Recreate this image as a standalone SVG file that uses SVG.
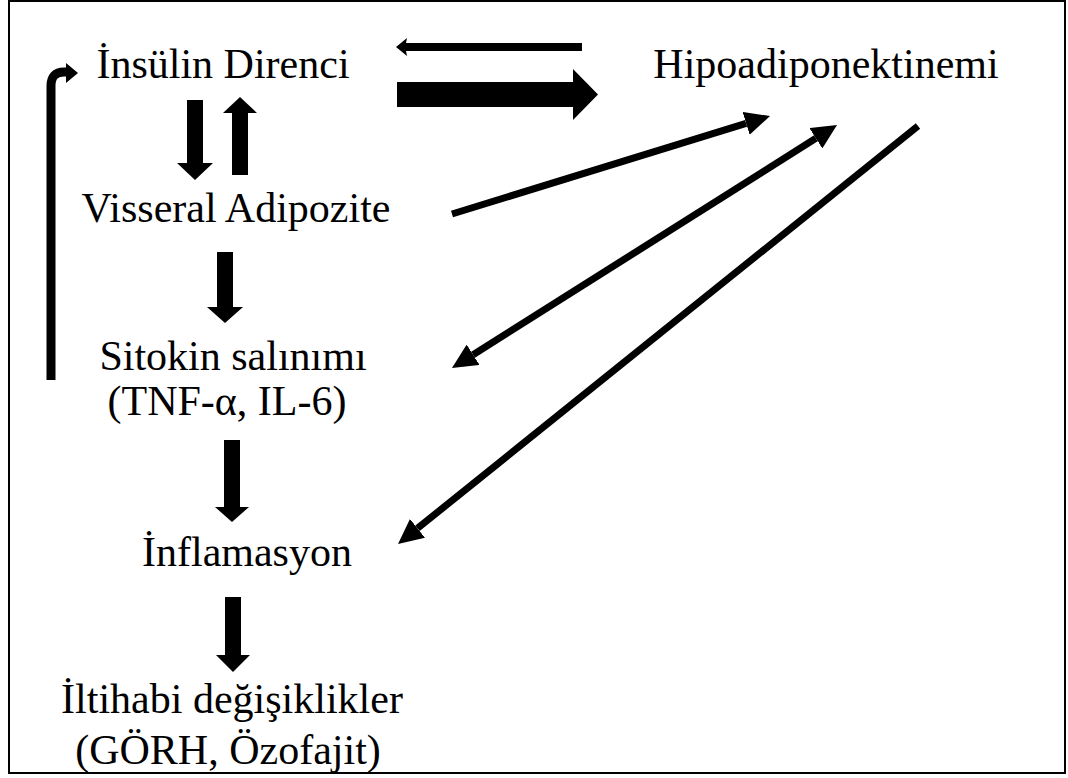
<svg xmlns="http://www.w3.org/2000/svg" width="1068" height="778" viewBox="0 0 1068 778">
<style>
.t{font-family:"Liberation Serif","Times New Roman",serif;font-size:42px;fill:#000;text-anchor:middle}
.blk{fill:#000}
.ln{stroke:#000;stroke-width:7;fill:none}
</style>
<defs>
<marker id="ah" markerUnits="userSpaceOnUse" viewBox="0 0 25 24" refX="0" refY="12" markerWidth="25" markerHeight="24" orient="auto-start-reverse">
<path d="M0,0 L25,12 L0,24 z" fill="#000"/>
</marker>
</defs>
<rect x="9" y="1" width="1056" height="772" fill="#fff" stroke="#000" stroke-width="2"/>
<g id="n-insulin"><text class="t" x="223" y="78">İnsülin Direnci</text></g>
<g id="n-hipo"><text class="t" x="826" y="78">Hipoadiponektinemi</text></g>
<g id="n-visseral"><text class="t" x="236" y="222">Visseral Adipozite</text></g>
<g id="n-sitokin"><text class="t" x="233" y="370">Sitokin salınımı</text><text class="t" x="227" y="415">(TNF-α, IL-6)</text></g>
<g id="n-inflamasyon"><text class="t" x="247" y="566">İnflamasyon</text></g>
<g id="n-iltihabi"><text class="t" x="232" y="713">İltihabi değişiklikler</text><text class="t" x="228" y="764">(GÖRH, Özofajit)</text></g>
<g id="connectors">
<polygon class="blk" points="582,43 406,43 407,38 396,47 407,56 406,51 582,51"/>
<polygon class="blk" points="397,82 573,82 573,69 598,94.5 573,120 573,107 397,107"/>
<polygon class="blk" points="187,100 203,100 203,163 213,163 195,180 177,163 187,163"/>
<polygon class="blk" points="232,175 248,175 248,113 257,113 240,97 223,113 232,113"/>
<polygon class="blk" points="217,252 233,252 233,307 243,307 225,323 207,307 217,307"/>
<polygon class="blk" points="224,440 240,440 240,507 249,507 232,522 215,507 224,507"/>
<polygon class="blk" points="225,597 241,597 241,655 250,655 233,672 216,655 225,655"/>
<path d="M51,380 V86 Q51,72 64,72 H68" stroke="#000" stroke-width="9" fill="none"/>
<polygon class="blk" points="66,63 78,73 66,83"/>
<path class="ln" d="M452,214 L746.1,123.4" marker-end="url(#ah)"/>
<path class="ln" d="M473.1,354.7 L815.9,138.3" marker-start="url(#ah)" marker-end="url(#ah)"/>
<path class="ln" d="M918,126 L417.5,528.3" marker-end="url(#ah)"/>
</g>
</svg>
